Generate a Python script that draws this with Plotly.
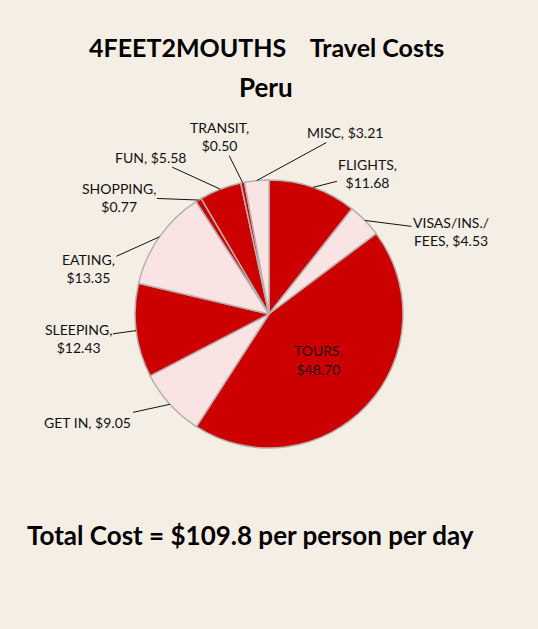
import math
import plotly.graph_objects as go

# data ($ per person per day)
labels = ["FLIGHTS", "VISAS/INS./<br>FEES", "TOURS", "GET IN", "SLEEPING",
          "EATING", "SHOPPING", "FUN", "TRANSIT", "MISC"]
values = [11.68, 4.53, 48.70, 9.05, 12.43, 13.35, 0.77, 5.58, 0.50, 3.21]
label_text = ["FLIGHTS,<br>$11.68", "VISAS/INS./<br>FEES, $4.53", "TOURS,<br>$48.70",
              "GET IN, $9.05", "SLEEPING,<br>$12.43", "EATING,<br>$13.35",
              "SHOPPING,<br>$0.77", "FUN, $5.58", "TRANSIT,<br>$0.50", "MISC, $3.21"]
total_text = "Total Cost = $109.8 per person per day"

RED = "#cc0000"
PINK = "#f9e3e3"
BG = "#f4eee5"
colors = [RED, PINK, RED, PINK, RED, PINK, RED, RED, RED, PINK]

# label offsets from the rim (px), style only
offs = [(55, -14), (86, 11), None, (-82, 18), (-58, 8), (-71, 32),
        (-80, -3), (-70, -32), (-23, -46), (88, -48)]

W, H = 538, 629
cx, cy, r = 269, 314, 134  # pie centre / radius in px

fig = go.Figure(go.Pie(
    labels=labels, values=values, sort=False, direction="clockwise", rotation=0,
    marker=dict(colors=colors, line=dict(color="#b8b0ae", width=1.5)),
    text=label_text, texttemplate="%{text}",
    textposition=["none" if o else "inside" for o in offs],
    insidetextorientation="horizontal",
    insidetextfont=dict(family="Lato", size=14, color="#2a0a0a"),
    hoverinfo="label+value",
    domain=dict(x=[(cx - r) / W, (cx + r) / W], y=[1 - (cy + r) / H, 1 - (cy - r) / H]),
    showlegend=False,
))

total = sum(values)
cum = 0
annos = []
for lab, v, o in zip(label_text, values, offs):
    th = 2 * math.pi * (cum + v / 2) / total
    cum += v
    if o is None:
        continue
    px = cx + r * math.sin(th)
    py = cy - r * math.cos(th)
    annos.append(dict(x=px / W, y=1 - py / H, xref="paper", yref="paper",
                      text=lab, showarrow=True, ax=o[0], ay=o[1],
                      arrowhead=0, arrowwidth=1, arrowcolor="#111", standoff=0,
                      font=dict(family="Lato", size=14, color="#111"), align="center"))

big = dict(xref="paper", yref="paper", showarrow=False, xanchor="center", yanchor="middle")
annos.append(dict(big, x=0.495, y=1 - 47 / H, text="<b>4FEET2MOUTHS    Travel Costs</b>",
                  font=dict(family="Lato", size=25, color="#000")))
annos.append(dict(big, x=0.495, y=1 - 87 / H, text="<b>Peru</b>",
                  font=dict(family="Lato", size=26, color="#000")))
annos.append(dict(big, x=0.465, y=1 - 535 / H, text="<b>" + total_text + "</b>",
                  font=dict(family="Lato", size=26, color="#000")))

fig.update_layout(
    width=W, height=H,
    margin=dict(l=0, r=0, t=0, b=0),
    paper_bgcolor=BG, plot_bgcolor=BG,
    annotations=annos,
)
fig.write_html("out.html", config=dict(displayModeBar=False),
               post_script="document.body.style.margin='0';"
                           "document.body.style.overflow='hidden';"
                           "document.body.style.background='%s';" % BG)
